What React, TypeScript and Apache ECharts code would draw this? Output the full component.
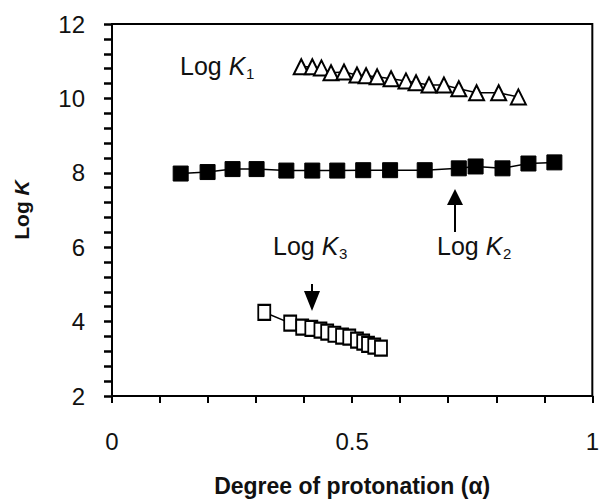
import React, { useEffect, useRef } from "react";
import * as echarts from "echarts";

// Degree of protonation (alpha) and log K values for each constant
const k1Alpha = [0.394, 0.417, 0.436, 0.456, 0.483, 0.51, 0.529, 0.552, 0.581, 0.612, 0.633, 0.66, 0.691, 0.722, 0.759, 0.805, 0.846];
const k1LogK = [10.85, 10.85, 10.82, 10.69, 10.71, 10.63, 10.61, 10.58, 10.53, 10.47, 10.42, 10.36, 10.36, 10.26, 10.15, 10.15, 10.04];

const k2Alpha = [0.143, 0.199, 0.251, 0.301, 0.363, 0.417, 0.469, 0.523, 0.579, 0.651, 0.722, 0.757, 0.813, 0.867, 0.921];
const k2LogK = [7.98, 8.02, 8.1, 8.1, 8.06, 8.06, 8.06, 8.07, 8.07, 8.07, 8.12, 8.17, 8.12, 8.25, 8.28];

const k3Alpha = [0.317, 0.371, 0.396, 0.415, 0.434, 0.448, 0.463, 0.479, 0.494, 0.51, 0.523, 0.533, 0.546, 0.56];
const k3LogK = [4.25, 3.96, 3.85, 3.82, 3.77, 3.72, 3.66, 3.61, 3.58, 3.5, 3.45, 3.39, 3.34, 3.29];

const xLabels = [0, 0.5, 1];
const yLabels = [2, 4, 6, 8, 10, 12];

const FONT = '"Liberation Sans", Arial, sans-serif';

const pairs = (xs: number[], ys: number[]) => xs.map((x, i) => [x, ys[i]]);
const pick = (list: number[], v: number) => {
  const hit = list.find((l) => Math.abs(l - v) < 1e-6);
  return hit === undefined ? "" : String(hit);
};

function label(x: number, y: number, sub: string, subDx: number) {
  return [
    {
      type: "text",
      x,
      y,
      style: {
        text: "{n|Log }{k|K}",
        textVerticalAlign: "middle",
        rich: {
          n: { fontSize: 25, fontFamily: FONT, fill: "#111" },
          k: { fontSize: 25, fontFamily: FONT, fontStyle: "italic", fill: "#111" },
        },
      },
    },
    {
      type: "text",
      x: x + subDx,
      y: y + 7,
      style: { text: sub, fontSize: 15, fontFamily: FONT, fill: "#111", textVerticalAlign: "middle" },
    },
  ];
}

function arrow(x: number, y1: number, y2: number, tipY: number, baseY: number) {
  return [
    { type: "line", shape: { x1: x, y1, x2: x, y2 }, style: { stroke: "#000", lineWidth: 2 } },
    {
      type: "polygon",
      shape: { points: [[x - 8, baseY], [x + 8, baseY], [x, tipY]] },
      style: { fill: "#000" },
    },
  ];
}

export default function App() {
  const ref = useRef<HTMLDivElement>(null);
  useEffect(() => {
    if (!ref.current) return;
    const chart = echarts.init(ref.current, undefined, { renderer: "svg" });
    chart.setOption({
      animation: false,
      backgroundColor: "#fff",
      grid: { left: 112, right: 8, top: 24, bottom: 105, show: true, borderColor: "#000", borderWidth: 2 },
      xAxis: {
        type: "value",
        min: 0,
        max: 1,
        interval: 0.1,
        axisLine: { show: true, lineStyle: { color: "#000", width: 2 } },
        axisTick: { show: true, length: 7, lineStyle: { color: "#000", width: 2 } },
        axisLabel: {
          fontSize: 24,
          fontFamily: FONT,
          color: "#111",
          margin: 33,
          formatter: (v: number) => pick(xLabels, v),
        },
        splitLine: { show: false },
        name: "Degree of protonation (α)",
        nameLocation: "middle",
        nameGap: 78,
        nameTextStyle: { fontSize: 23, fontWeight: "bold", fontFamily: FONT, color: "#111" },
      },
      yAxis: {
        type: "value",
        min: 2,
        max: 12,
        interval: 0.4,
        axisLine: { show: true, onZero: false, lineStyle: { color: "#000", width: 2 } },
        axisTick: { show: true, length: 8, lineStyle: { color: "#000", width: 2.5 } },
        axisLabel: {
          fontSize: 24,
          fontFamily: FONT,
          color: "#111",
          margin: 27,
          formatter: (v: number) => pick(yLabels, v),
        },
        splitLine: { show: false },
        name: "{b|Log }{i|K}",
        nameLocation: "middle",
        nameGap: 80,
        nameRotate: 90,
        nameTextStyle: {
          rich: {
            b: { fontSize: 21, fontWeight: "bold", fontFamily: FONT, color: "#111" },
            i: { fontSize: 21, fontWeight: "bold", fontStyle: "italic", fontFamily: FONT, color: "#111" },
          },
        },
      },
      series: [
        {
          name: "Log K1",
          type: "line",
          data: pairs(k1Alpha, k1LogK),
          symbol: "triangle",
          symbolSize: 15,
          showAllSymbol: true,
          lineStyle: { color: "#000", width: 1.5 },
          itemStyle: { color: "#fff", borderColor: "#000", borderWidth: 2 },
        },
        {
          name: "Log K2",
          type: "line",
          data: pairs(k2Alpha, k2LogK),
          symbol: "rect",
          symbolSize: 15,
          showAllSymbol: true,
          lineStyle: { color: "#000", width: 1.5 },
          itemStyle: { color: "#000", borderColor: "#000", borderWidth: 1 },
        },
        {
          name: "Log K3",
          type: "line",
          data: pairs(k3Alpha, k3LogK),
          symbol: "rect",
          symbolSize: [12, 15],
          showAllSymbol: true,
          lineStyle: { color: "#000", width: 1.5 },
          itemStyle: { color: "#fff", borderColor: "#000", borderWidth: 2 },
        },
      ],
      graphic: [
        ...label(180, 66, "1", 66),
        ...label(273, 246, "3", 66),
        ...label(437, 246, "2", 66),
        ...arrow(455, 232, 200, 189, 205),
        ...arrow(312, 284, 300, 311, 291),
      ],
    });
    return () => chart.dispose();
  }, []);
  return <div ref={ref} style={{ position: "fixed", left: 0, top: 0, width: 602, height: 502 }} />;
}
